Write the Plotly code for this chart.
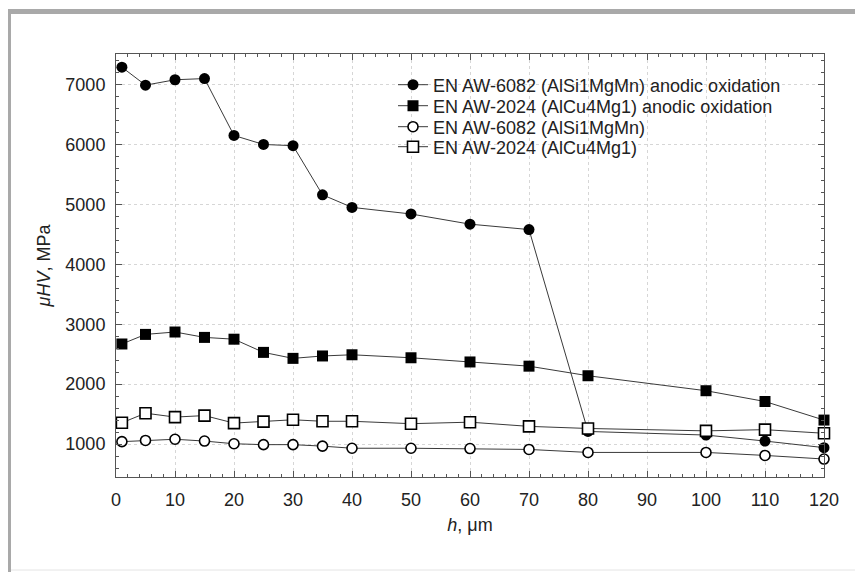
import plotly.graph_objects as go

depth = [1, 5, 10, 15, 20, 25, 30, 35, 40, 50, 60, 70, 80, 100, 110, 120]

aw6082_anodic = [7290, 6990, 7080, 7100, 6150, 6000, 5980, 5160, 4950, 4840, 4670, 4580, 1210, 1150, 1050, 940]
aw2024_anodic = [2670, 2830, 2870, 2780, 2750, 2530, 2430, 2470, 2490, 2440, 2370, 2300, 2140, 1890, 1710, 1400]
aw6082 = [1040, 1060, 1080, 1050, 1005, 990, 990, 965, 930, 930, 925, 910, 860, 860, 810, 750]
aw2024 = [1355, 1515, 1450, 1475, 1350, 1375, 1405, 1380, 1380, 1340, 1365, 1295, 1260, 1220, 1240, 1180]

names = [
    "EN AW-6082 (AlSi1MgMn) anodic oxidation",
    "EN AW-2024 (AlCu4Mg1) anodic oxidation",
    "EN AW-6082 (AlSi1MgMn)",
    "EN AW-2024 (AlCu4Mg1)",
]

line_color = "#3a3a3a"
fig = go.Figure()

legend_ids = ["legend", "legend2", "legend3", "legend4"]
specs = [
    (aw6082_anodic, "circle", "black", 11, 0),
    (aw2024_anodic, "square", "black", 11, 0),
    (aw6082, "circle", "white", 10, 1.6),
    (aw2024, "square", "white", 11, 1.6),
]
for (vals, sym, fill, size, lw), name, lg in zip(specs, names, legend_ids):
    fig.add_trace(go.Scatter(
        x=depth, y=vals, name=name, mode="lines+markers",
        line=dict(color=line_color, width=1),
        marker=dict(symbol=sym, size=size, color=fill,
                    line=dict(color="black", width=lw)),
        cliponaxis=False, legend=lg,
    ))

# page offset (browser body margin)
OFF = 8
W, H = 863 - OFF, 572 - OFF
L, T = 116 - OFF, 54 - OFF
R = W - (824 - OFF)
B = H - (477 - OFF)
pw = W - L - R
ph = H - T - B

def px_x(p):
    return (p - OFF - L) / pw

def px_y(p):
    return (H - B - (p - OFF)) / ph

band = "#a9a9a9"
shapes = [
    dict(type="rect", xref="paper", yref="paper", x0=px_x(0), x1=px_x(870),
         y0=px_y(14), y1=px_y(9), fillcolor=band, line=dict(width=0), layer="below"),
    dict(type="rect", xref="paper", yref="paper", x0=px_x(0), x1=px_x(11),
         y0=px_y(580), y1=px_y(9), fillcolor=band, line=dict(width=0), layer="below"),
    dict(type="line", xref="paper", yref="paper", x0=px_x(11), x1=px_x(870),
         y0=px_y(570), y1=px_y(570), line=dict(color="#e4e4e4", width=1), layer="below"),
]

FONT = "Liberation Sans, Arial"
axis_common = dict(
    showline=True, linecolor="#555555", linewidth=1, mirror="ticks",
    ticks="inside", ticklen=6, tickcolor="#555555",
    showgrid=True, gridcolor="#d6d6d6", griddash="dot", gridwidth=1,
    zeroline=False,
    tickfont=dict(family=FONT, size=18, color="#222222"),
)

row_centers = [85, 106, 127, 147]
legend_layout = {}
for lg, yc in zip(legend_ids, row_centers):
    legend_layout[lg] = dict(
        x=px_x(393), y=px_y(yc), xanchor="left", yanchor="middle",
        bgcolor="rgba(0,0,0,0)", borderwidth=0, itemwidth=30,
        font=dict(family=FONT, size=18, color="#222222"),
    )

fig.update_layout(
    width=W, height=H,
    margin=dict(l=L, r=R, t=T, b=B),
    paper_bgcolor="white", plot_bgcolor="white",
    font=dict(family=FONT, size=18, color="#222222"),
    showlegend=True,
    xaxis=dict(range=[0, 120], dtick=10, tick0=0,
               minor=dict(ticks="inside", ticklen=3, dtick=2, tickcolor="#555555", showgrid=False),
               ticklabelstandoff=6,
               title=dict(text="<i>h</i>, μm", standoff=9, font=dict(size=18)),
               **axis_common),
    yaxis=dict(range=[450, 7510], dtick=1000, tick0=0,
               minor=dict(ticks="inside", ticklen=3, dtick=200, tickcolor="#555555", showgrid=False),
               ticklabelstandoff=6,
               title=dict(text="<i>μHV</i>, MPa", standoff=10, font=dict(size=18)),
               **axis_common),
    shapes=shapes,
    **legend_layout,
)

fig.write_html("out.html")
